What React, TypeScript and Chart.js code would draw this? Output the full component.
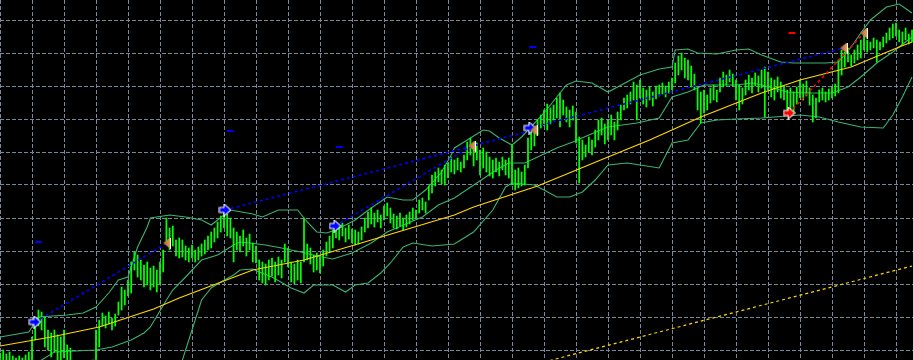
import React, { useEffect, useRef } from 'react';
import { Chart, registerables } from 'chart.js';

Chart.register(...registerables);

// ---- price bars (bar index = time, value = price units) ----
const barHighs: number[] = [
  7, 10, 6, 8, 4, 2, 4, 2, 5, 8,
  23, 42, 50, 48, 43, 30, 27, 30, 25, 23,
  30, 15, 12, -2, -5, -8, -10, -6, -4, 0,
  30, 40, 47, 44, 48, 42, 46, 58, 73, 70,
  80, 98, 108, 105, 100, 95, 98, 92, 94, 90,
  98, 110, 142, 132, 134, 120, 122, 120, 114, 112,
  115, 110, 113, 116, 120, 124, 128, 132, 138, 144,
  149, 146, 142, 132, 128, 124, 130, 122, 126, 117,
  114, 100, 98, 96, 100, 102, 98, 103, 100, 116,
  112, 98, 96, 100, 98, 142, 116, 112, 105, 107,
  103, 110, 118, 124, 130, 136, 134, 137, 132, 135,
  131, 130, 128, 133, 142, 148, 152, 147, 150, 145,
  154, 157, 152, 146, 144, 147, 142, 145, 148, 152,
  150, 160, 162, 158, 174, 185, 188, 192, 190, 195,
  197, 203, 200, 202, 198, 205, 218, 222, 214, 217,
  210, 212, 208, 203, 200, 202, 198, 203, 200, 202,
  215, 190, 192, 188, 195, 222, 232, 230, 240, 245,
  250, 256, 252, 255, 262, 267, 260, 253, 250, 254,
  248, 223, 220, 215, 223, 220, 230, 240, 242, 236,
  240, 245, 238, 248, 255, 262, 265, 268, 278, 275,
  280, 272, 270, 273, 268, 274, 275, 277, 274, 278,
  282, 297, 304, 307, 302, 300, 294, 286, 272, 268,
  270, 265, 272, 275, 270, 282, 288, 285, 290, 286,
  280, 275, 272, 280, 285, 282, 287, 284, 290, 293,
  288, 282, 280, 283, 278, 274, 270, 272, 268, 273,
  280, 276, 279, 272, 265, 262, 270, 272, 268, 271,
  273, 276, 300, 310, 308, 312, 305, 310, 315, 320,
  327, 320, 318, 322, 320, 318, 323, 327, 332, 336,
  337, 330, 328, 332, 326, 330,
];

const barLows: number[] = [
  -12, -8, -15, -10, -18, -20, -16, -22, -14, -12,
  -2, 20, 34, 30, 13, 10, 3, 8, 0, -2,
  2, -6, -12, -25, -30, -32, -35, -30, -28, -22,
  -5, 13, 34, 32, 36, 30, 34, 45, 50, 55,
  64, 67, 90, 83, 80, 73, 75, 70, 73, 68,
  76, 88, 116, 110, 114, 104, 102, 103, 100, 98,
  102, 98, 100, 104, 106, 110, 112, 118, 122, 128,
  132, 124, 122, 98, 110, 108, 114, 104, 110, 98,
  97, 80, 77, 75, 80, 84, 78, 85, 82, 98,
  93, 78, 76, 80, 77, 98, 100, 96, 88, 90,
  87, 94, 104, 108, 112, 122, 120, 124, 118, 121,
  117, 115, 116, 120, 128, 132, 136, 133, 138, 132,
  140, 144, 137, 132, 131, 134, 130, 133, 136, 140,
  142, 147, 150, 147, 160, 167, 174, 178, 176, 175,
  182, 188, 186, 190, 188, 192, 200, 205, 194, 200,
  185, 192, 188, 184, 182, 188, 184, 190, 185, 182,
  175, 170, 172, 174, 175, 192, 210, 214, 225, 232,
  234, 230, 236, 240, 242, 233, 245, 238, 233, 240,
  217, 177, 200, 203, 208, 205, 213, 220, 225, 216,
  220, 225, 220, 230, 240, 250, 252, 256, 260, 240,
  262, 256, 253, 260, 254, 261, 264, 266, 263, 267,
  270, 277, 285, 290, 282, 280, 273, 270, 250, 237,
  247, 250, 257, 260, 258, 268, 273, 275, 278, 274,
  260, 250, 256, 265, 270, 267, 274, 268, 272, 243,
  270, 263, 260, 268, 262, 260, 247, 250, 248, 256,
  262, 260, 264, 255, 238, 242, 258, 260, 258, 260,
  262, 264, 267, 285, 293, 298, 294, 297, 300, 302,
  310, 308, 310, 312, 298, 310, 313, 317, 320, 322,
  324, 318, 315, 320, 316, 318,
];

// ---- Bollinger bands: [bar index, price] ----
const upperBand: [number, number][] = [
  [0, 23], [9, 28], [12, 43], [21, 45], [26, 47], [30, 53], [34, 67], [37, 80], [40, 83],
  [43, 113], [46, 133], [47, 142], [53, 145], [58, 143], [63, 140], [66, 135], [70, 145],
  [72, 150], [79, 146], [82, 143], [87, 150], [93, 150], [96, 138], [99, 128], [102, 127],
  [105, 130], [111, 140], [116, 152], [121, 163], [126, 160], [129, 160], [133, 170],
  [138, 188], [141, 205], [142, 212], [151, 230], [153, 229], [156, 222], [160, 215],
  [163, 223], [170, 247], [174, 263], [177, 275], [180, 279], [185, 277], [190, 268],
  [200, 285], [206, 291], [210, 293], [211, 310], [215, 311], [218, 307], [224, 306],
  [230, 310], [234, 311], [238, 305], [244, 298], [248, 297], [258, 297], [262, 298],
  [266, 313], [269, 327], [272, 340], [277, 353], [281, 356], [285, 347],
];
const middleBand: [number, number][] = [
  [0, -18], [13, 0], [17, 8], [30, 10], [35, 13], [41, 20], [45, 27], [47, 33], [52, 60],
  [54, 70], [58, 83], [63, 100], [68, 105], [73, 115], [75, 118], [78, 117], [83, 115],
  [88, 112], [94, 108], [99, 104], [104, 101], [110, 107], [116, 117], [121, 128],
  [132, 143], [137, 155], [142, 162], [149, 177], [155, 190], [159, 197], [164, 197],
  [168, 203], [174, 212], [179, 218], [184, 225], [190, 233], [199, 237], [206, 242],
  [210, 263], [215, 268], [220, 275], [225, 275], [230, 275], [235, 277], [238, 275],
  [246, 268], [253, 267], [260, 267], [265, 273], [269, 283], [274, 297], [279, 308],
  [285, 323],
];
const lowerBand: [number, number][] = [
  [53, -15], [57, 0], [63, 60], [66, 72], [69, 78], [73, 85], [75, 90], [79, 91], [81, 88],
  [85, 83], [91, 72], [95, 67], [98, 75], [104, 75], [108, 68], [111, 75], [115, 77],
  [119, 87], [122, 97], [126, 113], [129, 117], [135, 114], [142, 116], [148, 128],
  [154, 150], [158, 173], [160, 177], [167, 175], [170, 170], [174, 163], [178, 163],
  [182, 168], [186, 180], [190, 195], [196, 197], [206, 192], [210, 217], [215, 220],
  [219, 237], [224, 240], [230, 241], [238, 242], [250, 245], [256, 243], [262, 238],
  [269, 233], [276, 232], [279, 245], [282, 263], [285, 283],
];

// ---- moving averages ----
const maFast: [number, number][] = [
  [0, 14], [16, 23], [31, 33], [48, 51], [56, 62], [79, 90], [95, 100], [116, 120],
  [142, 145], [148, 153], [168, 174], [190, 203], [203, 220], [219, 243], [238, 267],
  [250, 280], [266, 293], [281, 313], [285, 318],
];
const maSlow: [number, number][] = [[170, -2], [230, 48], [285, 94]];

// ---- signals ----
const buyArrows: [number, number][] = [[10.9, 38], [70.3, 150], [104.7, 134], [165.6, 232]];
const sellArrows: [number, number][] = [[246.6, 247]];
const targetMarks: [number, number][] = [[52.2, 117], [147.5, 214], [166.9, 230], [263.75, 312], [270, 327]];
const blueTrendLines: [number, number, number, number][] = [
  [11, 38, 52.2, 117],
  [70.3, 150, 166.9, 230],
  [104.7, 134, 147.5, 214],
  [165.6, 232, 263.75, 312],
];
const redTrendLines: [number, number, number, number][] = [[246.6, 247, 270, 327]];
const blueLevelDashes: [number, number][] = [[12, 118], [72, 229], [106, 213], [166.5, 313]];
const redLevelDashes: [number, number][] = [[247.5, 327]];

// ---- grid ----
const timeGrid: number[] = [0, 10, 20, 30, 40, 50, 60, 70, 80, 90, 100, 110, 120, 130, 140,
  150, 160, 170, 180, 190, 200, 210, 220, 230, 240, 250, 260, 270, 280];
const priceGrid: number[] = [10, 43, 76, 109, 142, 175, 208, 241, 274, 307, 340];

const pts = (a: [number, number][]) => a.map(([x, y]) => ({ x, y }));

function makeArrow(fill: string) {
  const c = document.createElement('canvas');
  c.width = 13;
  c.height = 13;
  const g = c.getContext('2d')!;
  g.beginPath();
  g.moveTo(1.5, 4.5);
  g.lineTo(6, 4.5);
  g.lineTo(6, 1.5);
  g.lineTo(11.5, 6.5);
  g.lineTo(6, 11.5);
  g.lineTo(6, 8.5);
  g.lineTo(1.5, 8.5);
  g.closePath();
  g.strokeStyle = '#ffffff';
  g.lineWidth = 2;
  g.stroke();
  g.fillStyle = fill;
  g.fill();
  return c;
}

function makeTriangle() {
  const c = document.createElement('canvas');
  c.width = 8;
  c.height = 11;
  const g = c.getContext('2d')!;
  const grad = g.createLinearGradient(0, 0, 7, 0);
  grad.addColorStop(0, '#a8601c');
  grad.addColorStop(1, '#dca060');
  g.beginPath();
  g.moveTo(0, 5.5);
  g.lineTo(7, 0);
  g.lineTo(7, 11);
  g.closePath();
  g.fillStyle = grad;
  g.fill();
  g.fillStyle = '#ffffff';
  g.fillRect(7, 0, 1, 11);
  return c;
}

export default function App() {
  const ref = useRef<HTMLCanvasElement>(null);
  useEffect(() => {
    document.body.style.margin = '0';
    document.body.style.background = '#000';
    const blueArrow = makeArrow('#0000ff');
    const redArrow = makeArrow('#ff0000');
    const tri = makeTriangle();

    const lineDs = (data: any[], color: string, width: number, dash: number[], order: number) => ({
      type: 'line' as const,
      data,
      borderColor: color,
      borderWidth: width,
      borderDash: dash,
      pointRadius: 0,
      tension: 0,
      fill: false,
      order,
    });

    const datasets: any[] = [
      lineDs(pts(upperBand), '#3cb371', 1.1, [], 5),
      lineDs(pts(middleBand), '#3cb371', 1.1, [], 5),
      lineDs(pts(lowerBand), '#3cb371', 1.1, [], 5),
      {
        type: 'bar',
        data: barHighs.map((h, i) => ({ x: i, y: [barLows[i], h] })),
        backgroundColor: '#00ff00',
        borderWidth: 0,
        barThickness: 1.1,
        grouped: false,
        order: 4,
      },
      lineDs(pts(maFast), '#ffd700', 1.2, [], 3),
      lineDs(pts(maSlow), '#ffd700', 1.2, [3, 3], 3),
      ...blueTrendLines.map(([x1, y1, x2, y2]) =>
        lineDs([{ x: x1, y: y1 }, { x: x2, y: y2 }], '#0000ff', 1.6, [3, 3], 2)),
      ...redTrendLines.map(([x1, y1, x2, y2]) =>
        lineDs([{ x: x1, y: y1 }, { x: x2, y: y2 }], '#ff0000', 1.6, [3, 3], 2)),
      {
        type: 'scatter',
        data: pts(blueLevelDashes),
        pointStyle: 'line',
        pointRadius: 3.5,
        pointBorderWidth: 2,
        pointBorderColor: '#0000ff',
        order: 1,
      },
      {
        type: 'scatter',
        data: pts(redLevelDashes),
        pointStyle: 'line',
        pointRadius: 3.5,
        pointBorderWidth: 2,
        pointBorderColor: '#ff0000',
        order: 1,
      },
      { type: 'scatter', data: pts(targetMarks), pointStyle: tri, pointRadius: 5, order: 0 },
      { type: 'scatter', data: pts(buyArrows), pointStyle: blueArrow, pointRadius: 5, order: 0 },
      { type: 'scatter', data: pts(sellArrows), pointStyle: redArrow, pointRadius: 5, order: 0 },
    ];

    const gridCfg = { color: '#778899', lineWidth: 1, drawTicks: false, tickLength: 0 };
    const chart = new Chart(ref.current!, {
      type: 'bar',
      data: { datasets },
      options: {
        animation: false,
        responsive: false,
        devicePixelRatio: 1,
        layout: { padding: 0, autoPadding: false },
        plugins: { legend: { display: false }, tooltip: { enabled: false } },
        scales: {
          x: {
            type: 'linear',
            min: 0,
            max: 913 / 3.2,
            offset: false,
            grid: { ...gridCfg, offset: false },
            border: { display: false, dash: [4, 2] },
            ticks: { display: false },
            afterBuildTicks: (s: any) => { s.ticks = timeGrid.map((v) => ({ value: v })); },
          },
          y: {
            type: 'linear',
            min: 0,
            max: 360,
            grid: gridCfg,
            border: { display: false, dash: [4, 2] },
            ticks: { display: false },
            afterBuildTicks: (s: any) => { s.ticks = priceGrid.map((v) => ({ value: v })); },
          },
        },
      } as any,
    });
    return () => chart.destroy();
  }, []);

  return (
    <div style={{ position: 'fixed', left: 0, top: 0, width: 913, height: 360, background: '#000' }}>
      <canvas ref={ref} width={913} height={360} style={{ display: 'block' }} />
    </div>
  );
}
